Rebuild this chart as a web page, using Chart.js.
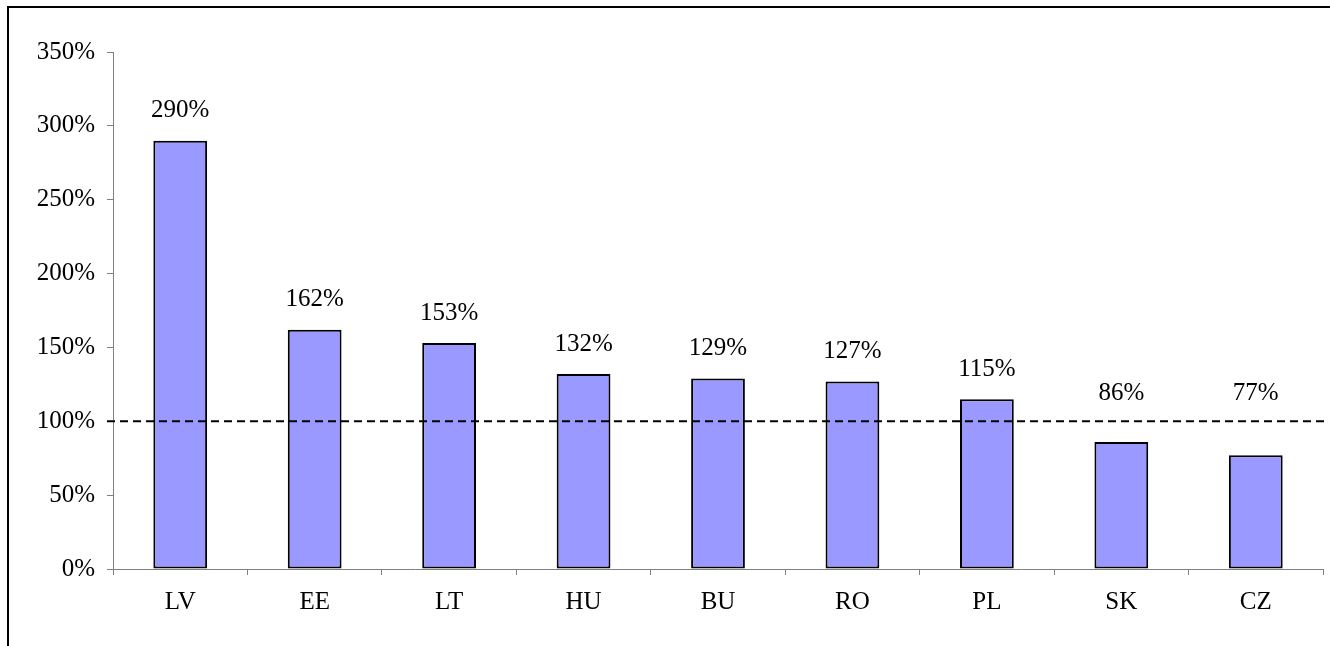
<!DOCTYPE html>
<html>
<head>
<meta charset="utf-8">
<script src="https://cdn.jsdelivr.net/npm/chart.js@4.4.0/dist/chart.umd.min.js"></script>
<style>
  html, body { margin: 0; padding: 0; background: #fff; }
  canvas { display: block; }
</style>
</head>
<body>
<canvas id="ratioChart" width="1330" height="646"></canvas>
<script>
const countries = ['LV', 'EE', 'LT', 'HU', 'BU', 'RO', 'PL', 'SK', 'CZ'];
const ratios = [290, 162, 153, 132, 129, 127, 115, 86, 77];
const yTicks = [0, 50, 100, 150, 200, 250, 300, 350];
const referenceLevel = 100;

const fontFamily = "'Liberation Serif', 'Times New Roman', serif";
const fontSize = 25;

// frame round the whole chart (only top and left edges show)
const framePlugin = {
    id: 'frame',
    afterDraw(chart) {
        const c = chart.ctx;
        c.save();
        c.strokeStyle = '#000';
        c.lineWidth = 2;
        c.beginPath();
        c.moveTo(8, 646);
        c.lineTo(8, 7);
        c.lineTo(1330, 7);
        c.stroke();
        c.restore();
    }
};

// dashed 100% line, drawn over the bars
const refLinePlugin = {
    id: 'refLine',
    afterDatasetsDraw(chart) {
        const c = chart.ctx;
        const y = chart.scales.y.getPixelForValue(referenceLevel);
        c.save();
        c.strokeStyle = '#000';
        c.lineWidth = 2;
        c.setLineDash([8, 5]);
        c.beginPath();
        c.moveTo(chart.chartArea.left - 6, y);
        c.lineTo(chart.chartArea.right + 2, y);
        c.stroke();
        c.restore();
    }
};

// value labels above the bars
const valueLabelPlugin = {
    id: 'valueLabels',
    afterDraw(chart) {
        const c = chart.ctx;
        const meta = chart.getDatasetMeta(0);
        const yScale = chart.scales.y;
        c.save();
        c.fillStyle = '#000';
        c.font = fontSize + 'px ' + fontFamily;
        c.textAlign = 'center';
        c.textBaseline = 'middle';
        meta.data.forEach((bar, i) => {
            const v = ratios[i];
            let y;
            if (v < referenceLevel) {
                y = yScale.getPixelForValue(referenceLevel) - 28;
            } else {
                y = bar.y - 30;
            }
            c.fillText(v + '%', bar.x, y);
        });
        c.restore();
    }
};

new Chart(document.getElementById('ratioChart').getContext('2d'), {
    type: 'bar',
    data: {
        labels: countries,
        datasets: [{
            data: ratios,
            backgroundColor: '#9999FF',
            borderColor: '#000',
            borderWidth: 2,
            borderSkipped: false,
            barPercentage: 0.40,
            categoryPercentage: 1
        }]
    },
    plugins: [refLinePlugin, valueLabelPlugin, framePlugin],
    options: {
        responsive: false,
        animation: false,
        devicePixelRatio: 1,
        layout: {
            padding: { top: 52, right: 7, bottom: 0, left: 0 }
        },
        plugins: {
            legend: { display: false },
            tooltip: { enabled: false }
        },
        scales: {
            x: {
                afterFit(scale) { scale.height = 77; },
                grid: {
                    drawOnChartArea: false,
                    drawTicks: true,
                    tickLength: 6,
                    color: '#808080',
                    offset: true
                },
                border: { display: true, color: '#808080', width: 1 },
                ticks: {
                    color: '#000',
                    padding: 12,
                    font: { family: fontFamily, size: fontSize }
                }
            },
            y: {
                min: 0,
                max: 350,
                afterFit(scale) { scale.width = 113; },
                afterBuildTicks(scale) {
                    scale.ticks = yTicks.map(v => ({ value: v }));
                },
                grid: {
                    drawOnChartArea: false,
                    drawTicks: true,
                    tickLength: 6,
                    color: '#808080'
                },
                border: { display: true, color: '#808080', width: 1 },
                ticks: {
                    color: '#000',
                    padding: 12,
                    font: { family: fontFamily, size: fontSize },
                    callback: v => v + '%'
                }
            }
        }
    }
});
</script>
</body>
</html>
